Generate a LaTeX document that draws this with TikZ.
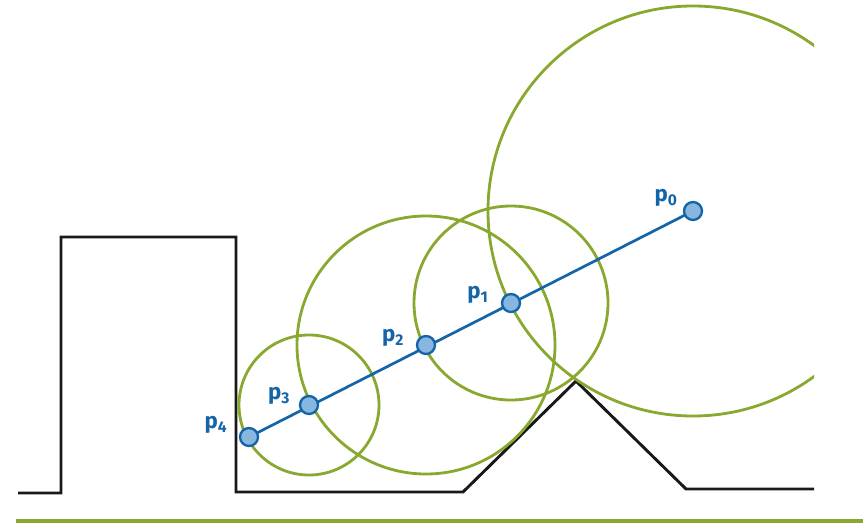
\documentclass[tikz,border=0pt]{standalone}
\usepackage{fontspec}
\setmainfont{Fira Sans}
\usepackage{xcolor}
\usepackage{tikz}
\usetikzlibrary{positioning}
\definecolor{sphgreen}{RGB}{137,168,48}
\definecolor{rayblue}{RGB}{20,100,168}
\definecolor{dotblue}{RGB}{135,182,222}
\tikzset{
  ground/.style={draw=black!90, line width=2.5pt, line join=miter},
  sphere/.style={draw=sphgreen, line width=2.4pt},
  ray/.style={draw=rayblue, line width=2.3pt},
  hit/.style={circle, draw=rayblue, fill=dotblue, line width=2pt,
              minimum size=0.54cm, inner sep=0pt},
  lbl/.style={text=rayblue, font=\fontsize{19}{21}\selectfont\bfseries,
              inner sep=0pt}
}

\begin{document}
\begin{tikzpicture}[x=0.03cm, y=-0.03cm]
  \useasboundingbox (0,0) rectangle (863,524);
  % march points along the ray
  \coordinate (p0) at (693,211);
  \coordinate (p1) at (511,303);
  \coordinate (p2) at (426,345);
  \coordinate (p3) at (309,405);
  \coordinate (p4) at (249,437);
  % terrain
  \draw[ground] (18,493) -- (61,493) -- (61,237) -- (236,237) -- (236,492)
    -- (463,492) -- (576,381) -- (686,489) -- (814,489);
  \draw[sphgreen, line width=2.8pt] (16,521) -- (863,521);
  % distance spheres
  \begin{scope}
    \clip (0,0) rectangle (814,524);
    \draw[sphere] (p0) circle (6.15cm);
  \end{scope}
  \draw[sphere] (p1) circle (2.91cm);
  \draw[sphere] (p2) circle (3.87cm);
  \draw[sphere] (p3) circle (2.10cm);
  \draw[ray] (p4) -- (p0);
  \foreach \i in {0,...,4} {
    \node[hit] (h\i) at (p\i) {};
  }
  \node[lbl] (l0) at ([shift={(-27,-13)}]h0) {p\textsubscript{0}};
  \node[lbl] (l1) at ([shift={(-33,-8)}]h1) {p\textsubscript{1}};
  \node[lbl] (l2) at ([shift={(-33,-7)}]h2) {p\textsubscript{2}};
  \node[lbl] (l3) at ([shift={(-30,-9)}]h3) {p\textsubscript{3}};
  \node[lbl] (l4) at ([shift={(-33,-12)}]h4) {p\textsubscript{4}};
\end{tikzpicture}
\end{document}
